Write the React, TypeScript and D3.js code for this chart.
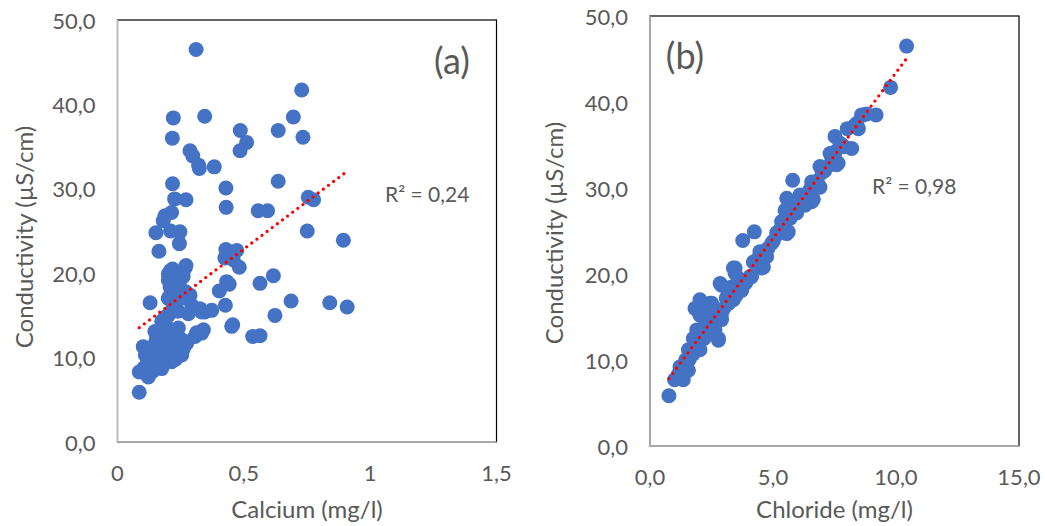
import React from "react";
import * as d3 from "d3";

// Panel (a): calcium vs conductivity
const calcium = [
  0.311, 0.729, 0.221, 0.345, 0.696, 0.486, 0.636, 0.217, 0.734, 0.511,
  0.485, 0.287, 0.298, 0.321, 0.324, 0.383, 0.636, 0.218, 0.429, 0.226,
  0.271, 0.755, 0.776, 0.43, 0.557, 0.594, 0.214, 0.188, 0.181, 0.152,
  0.247, 0.21, 0.751, 0.245, 0.894, 0.164, 0.429, 0.472, 0.425, 0.458,
  0.482, 0.271, 0.218, 0.201, 0.26, 0.617, 0.432, 0.442, 0.564, 0.403,
  0.208, 0.237, 0.287, 0.205, 0.687, 0.84, 0.909, 0.129, 0.427, 0.326,
  0.373, 0.346, 0.623, 0.456, 0.34, 0.313, 0.535, 0.564, 0.086, 0.086,
  0.122, 0.102, 0.168, 0.251, 0.274, 0.267, 0.201, 0.228, 0.201, 0.294,
  0.333, 0.148, 0.175, 0.201, 0.241, 0.109, 0.161, 0.254, 0.188, 0.148,
  0.175, 0.122, 0.214, 0.267, 0.214, 0.188, 0.307, 0.333, 0.452, 0.22,
  0.24, 0.18, 0.23, 0.2, 0.16, 0.14, 0.2, 0.23, 0.13, 0.27,
  0.25, 0.19, 0.21, 0.245, 0.28, 0.17, 0.105,
  0.13, 0.15, 0.17, 0.19, 0.21, 0.22, 0.16, 0.12, 0.18, 0.25,
  0.24, 0.155, 0.2, 0.26, 0.14, 0.11, 0.23, 0.19,
];
const conductivityA = [
  46.5, 41.7, 38.4, 38.6, 38.5, 36.9, 36.9, 36.0, 36.1, 35.5,
  34.5, 34.5, 33.9, 32.8, 32.4, 32.6, 30.9, 30.6, 30.1, 28.8,
  28.7, 29.0, 28.7, 27.8, 27.4, 27.4, 27.2, 26.8, 26.2, 24.8,
  24.9, 25.0, 25.0, 23.5, 23.9, 22.6, 22.8, 22.7, 21.8, 21.6,
  20.7, 20.9, 20.5, 19.9, 19.6, 19.7, 19.0, 18.7, 18.8, 17.9,
  18.4, 18.2, 17.4, 17.2, 16.7, 16.5, 16.0, 16.5, 16.2, 15.8,
  15.6, 15.4, 15.0, 13.9, 13.3, 12.95, 12.5, 12.6, 5.9, 8.3,
  8.1, 11.3, 9.3, 10.7, 11.7, 20.6, 19.2, 18.2, 17.0, 16.2,
  15.4, 13.1, 14.3, 15.0, 13.5, 11.1, 11.5, 10.3, 10.3, 9.5,
  8.7, 7.7, 11.9, 11.9, 9.5, 12.7, 12.5, 12.9, 13.7, 16.0,
  15.5, 12.0, 12.5, 13.5, 10.5, 10.2, 11.0, 10.8, 9.0, 17.8,
  17.0, 14.8, 20.3, 19.0, 15.2, 12.8, 8.8,
  10.0, 11.8, 11.0, 9.6, 10.2, 12.2, 9.0, 9.5, 13.5, 12.2,
  11.2, 12.5, 12.8, 11.0, 8.4, 10.3, 9.8, 11.6,
];

// Panel (b): chloride vs conductivity
const chloride = [
  10.43, 9.78, 9.19, 8.81, 8.6, 8.47, 8.02, 7.52, 8.2, 7.72,
  7.52, 7.32, 7.65, 7.32, 6.91, 5.8, 6.57, 6.91, 6.64, 6.1,
  5.56, 5.49, 5.96, 5.35, 5.15, 5.56, 4.24, 3.77, 4.95, 4.47,
  4.2, 4.61, 4.13, 3.39, 3.73, 2.85, 3.32, 3.39, 2.03, 2.44,
  1.83, 2.03, 2.91, 2.57, 2.78, 1.76, 2.03, 1.56, 1.22, 1.56,
  1.35, 0.77, 1.35, 1.49, 1.69, 1.83, 2.78, 2.02, 2.51, 2.24,
  2.91, 3.46, 3.18, 3.59, 2.64, 1.42, 6.64, 6.57, 5.96, 5.42,
  5.22, 5.62, 5.01, 4.74, 4.54, 4.07, 3.46, 3.66, 8.67, 7.79,
  7.39, 7.59,
  1.9, 2.4, 1.7, 3.0, 3.1, 3.6, 3.9,
  4.4, 4.8, 5.3, 5.7, 6.3, 6.8, 7.1, 7.5, 7.9, 8.3,
  1.45, 1.3, 2.6, 2.55,
  1.0, 1.15, 1.3, 1.6, 1.75, 2.2, 2.5, 2.9, 3.2, 3.5,
  6.2, 6.5, 7.0, 7.4, 7.8, 8.4,
];
const conductivityB = [
  46.5, 41.7, 38.5, 38.6, 38.5, 36.9, 36.9, 36.0, 34.6, 35.2,
  34.2, 34.0, 32.9, 32.7, 32.5, 30.9, 30.7, 30.1, 28.7, 29.2,
  28.8, 27.4, 27.1, 26.1, 24.8, 24.7, 24.9, 23.9, 23.6, 22.6,
  21.4, 20.8, 19.7, 20.7, 18.1, 18.9, 18.5, 17.0, 17.0, 16.6,
  16.0, 15.2, 14.7, 13.9, 12.5, 12.5, 11.2, 11.2, 9.2, 8.8,
  8.1, 5.85, 7.7, 8.8, 10.8, 12.3, 12.3, 15.8, 16.6, 14.7,
  18.7, 20.1, 17.8, 18.5, 13.5, 9.6, 30.5, 28.4, 27.8, 25.9,
  24.7, 24.9, 23.8, 22.0, 20.7, 19.7, 20.7, 18.7, 38.5, 35.0,
  34.0, 32.7,
  13.5, 14.0, 11.0, 16.0, 17.2, 19.5, 19.0,
  21.8, 23.0, 25.2, 26.5, 28.0, 30.8, 32.0, 33.5, 34.8, 37.2,
  10.0, 9.0, 15.2, 15.6,
  7.7, 8.3, 8.9, 10.1, 10.7, 12.5, 13.5, 15.3, 16.6, 17.5,
  28.6, 29.8, 31.8, 33.4, 35.0, 37.5,
];

const conductivityTicks = [0, 10, 20, 30, 40, 50];
const conductivityTickLabels = ["0,0", "10,0", "20,0", "30,0", "40,0", "50,0"];
const calciumTicks = [0, 0.5, 1, 1.5];
const calciumTickLabels = ["0", "0,5", "1", "1,5"];
const chlorideTicks = [0, 5, 10, 15];
const chlorideTickLabels = ["0,0", "5,0", "10,0", "15,0"];
const r2Labels = ["R\u00b2 = 0,24", "R\u00b2 = 0,98"];

const FONT = "Lato, 'Open Sans', sans-serif";
const TEXT = "#595959";
const DOT = "#4472C4";

function linearFit(xs: number[], ys: number[]) {
  const mx = d3.mean(xs) as number;
  const my = d3.mean(ys) as number;
  let sxy = 0;
  let sxx = 0;
  xs.forEach((x, i) => {
    sxy += (x - mx) * (ys[i] - my);
    sxx += (x - mx) * (x - mx);
  });
  const slope = sxy / sxx;
  return { slope, intercept: my - slope * mx };
}

type PanelProps = {
  xs: number[];
  ys: number[];
  xMax: number;
  xTicks: number[];
  xTickLabels: string[];
  box: { left: number; right: number; top: number; bottom: number };
  xTitle: string;
  yTitleX: number;
  yTitleY: number;
  tag: string;
  tagPos: [number, number];
  r2: string;
  r2Pos: [number, number];
};

function Panel(p: PanelProps) {
  const { left, right, top, bottom } = p.box;
  const x = d3.scaleLinear().domain([0, p.xMax]).range([left, right]);
  const y = d3.scaleLinear().domain([0, 50]).range([bottom, top]);
  const { slope, intercept } = linearFit(p.xs, p.ys);
  const [x0, x1] = d3.extent(p.xs) as [number, number];
  const trend = d3
    .line<number>()
    .x((d) => x(d))
    .y((d) => y(intercept + slope * d))([x0, x1]);

  return (
    <g>
      <rect
        x={left}
        y={top}
        width={right - left}
        height={bottom - top}
        fill="#fff"
        stroke="#000"
        strokeWidth={1.2}
      />
      <line x1={left} x2={left} y1={top} y2={bottom} stroke="#bfbfbf" strokeWidth={1.5} />
      <line x1={left} x2={right} y1={bottom} y2={bottom} stroke="#bfbfbf" strokeWidth={1.5} />

      {conductivityTicks.map((t, i) => (
        <text
          key={"y" + t}
          x={left - 22}
          y={y(t)}
          textAnchor="end"
          dominantBaseline="central"
          fontSize={22}
          fill={TEXT}
        >
          {conductivityTickLabels[i]}
        </text>
      ))}
      {p.xTicks.map((t, i) => (
        <text
          key={"x" + t}
          x={x(t)}
          y={bottom + 30}
          textAnchor="middle"
          dominantBaseline="central"
          fontSize={22}
          fill={TEXT}
        >
          {p.xTickLabels[i]}
        </text>
      ))}

      {p.xs.map((d, i) => (
        <circle key={i} cx={x(d)} cy={y(p.ys[i])} r={7.5} fill={DOT} />
      ))}

      <path
        d={trend ?? ""}
        fill="none"
        stroke="#ff0000"
        strokeWidth={3.3}
        strokeLinecap="round"
        strokeDasharray="0 6.4"
      />

      <text x={p.r2Pos[0]} y={p.r2Pos[1]} dominantBaseline="central" fontSize={21} fill={TEXT}>
        {p.r2}
      </text>
      <text
        x={p.tagPos[0]}
        y={p.tagPos[1]}
        textAnchor="middle"
        dominantBaseline="central"
        fontSize={36}
        fill={TEXT}
      >
        {p.tag}
      </text>

      <text
        x={(left + right) / 2}
        y={508}
        textAnchor="middle"
        dominantBaseline="central"
        fontSize={24}
        fill={TEXT}
      >
        {p.xTitle}
      </text>
      <text
        transform={`translate(${p.yTitleX},${p.yTitleY}) rotate(-90)`}
        textAnchor="middle"
        dominantBaseline="central"
        fontSize={24}
        fill={TEXT}
      >
        Conductivity (µS/cm)
      </text>
    </g>
  );
}

export default function App() {
  return (
    <svg
      width={1045}
      height={526}
      style={{ position: "absolute", left: 0, top: 0, background: "#fff", fontFamily: FONT }}
    >
      <rect width={1045} height={526} fill="#fff" />
      <Panel
        xs={calcium}
        ys={conductivityA}
        xMax={1.5}
        xTicks={calciumTicks}
        xTickLabels={calciumTickLabels}
        box={{ left: 117.5, right: 496.5, top: 20, bottom: 442 }}
        xTitle="Calcium (mg/l)"
        yTitleX={23}
        yTitleY={237}
        tag="(a)"
        tagPos={[452, 60]}
        r2={r2Labels[0]}
        r2Pos={[385, 193]}
      />
      <Panel
        xs={chloride}
        ys={conductivityB}
        xMax={15}
        xTicks={chlorideTicks}
        xTickLabels={chlorideTickLabels}
        box={{ left: 650, right: 1019, top: 16, bottom: 446 }}
        xTitle="Chloride (mg/l)"
        yTitleX={553}
        yTitleY={233}
        tag="(b)"
        tagPos={[685, 55]}
        r2={r2Labels[1]}
        r2Pos={[872, 185]}
      />
    </svg>
  );
}
